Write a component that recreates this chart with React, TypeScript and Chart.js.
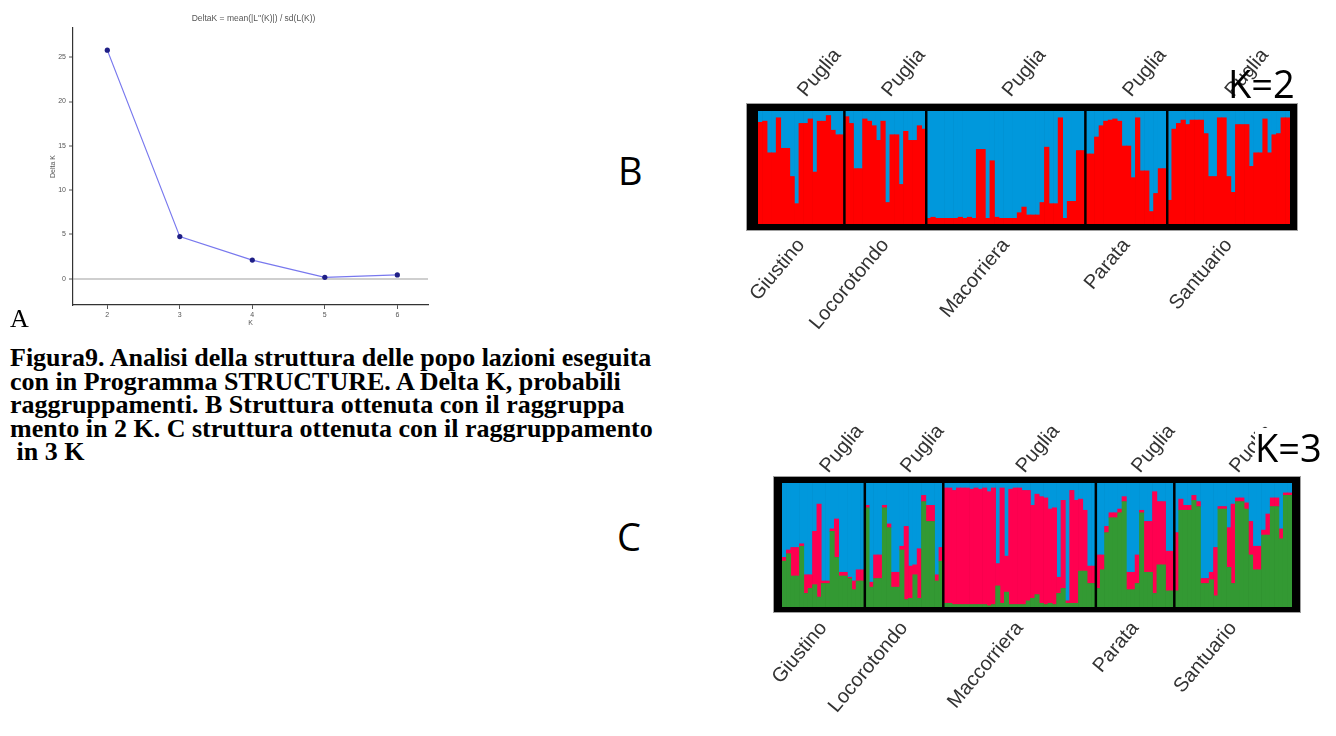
import React, { useEffect, useRef } from 'react';
import { Chart, registerables } from 'chart.js';

Chart.register(...registerables);

// ---------------- Panel A: Delta K ----------------
const kValues = [2, 3, 4, 5, 6];
const deltaK = [25.8, 4.75, 2.1, 0.15, 0.42];
const deltaKTicks = [0, 5, 10, 15, 20, 25];
const kTicks = [2, 3, 4, 5, 6];

// ---------------- Labels ----------------
const regionLabels = ['Puglia', 'Puglia', 'Puglia', 'Puglia', 'Puglia'];
const popLabelsK2 = ['Giustino', 'Locorotondo', 'Macorriera', 'Parata', 'Santuario'];
const popLabelsK3 = ['Giustino', 'Locorotondo', 'Maccorriera', 'Parata', 'Santuario'];

// ---------------- Panel B: K=2, red cluster membership (%) ----------------
const k2RedGiustino = [90, 91, 63, 63, 94, 67, 67, 42, 18, 89, 89, 93, 46, 91, 91, 96, 83, 79, 79];
const k2RedLocorotondo = [95, 89, 49, 49, 93, 91, 87, 74, 91, 19, 79, 79, 35, 82, 74, 74, 87, 84];
const k2RedMacorriera = [5, 6, 5, 5, 5, 5, 5, 6, 5, 6, 5, 66, 66, 5, 56, 6, 5, 5, 5, 5, 10, 15, 8, 8, 8, 19, 68, 18, 18, 94, 5, 20, 20, 65, 65];
const k2RedParata = [62, 62, 77, 87, 91, 92, 93, 91, 69, 69, 41, 94, 47, 47, 11, 27, 49, 49];
const k2RedSantuario = [21, 84, 89, 92, 88, 92, 92, 92, 80, 42, 42, 94, 94, 42, 28, 88, 88, 88, 51, 63, 63, 93, 63, 79, 80, 94, 94];

// ---------------- Panel C: K=3, green and red cluster membership (%) ----------------
const k3GreenGiustino = [37, 43, 25, 25, 49, 11, 15, 18, 8, 19, 19, 61, 40, 25, 25, 23, 14, 21, 21];
const k3RedGiustino = [3, 3, 23, 23, 2, 15, 11, 43, 75, 2, 2, 2, 31, 3, 3, 1, 7, 9, 9];
const k3GreenLocorotondo = [80, 16, 23, 23, 80, 64, 16, 16, 46, 6, 7, 26, 7, 85, 69, 69, 21, 37];
const k3RedLocorotondo = [2, 4, 19, 19, 2, 3, 12, 12, 3, 59, 26, 8, 40, 5, 13, 13, 5, 11];
const k3GreenMaccorriera = [3, 3, 2, 2, 2, 2, 2, 2, 2, 2, 1, 2, 17, 3, 12, 2, 2, 2, 2, 5, 7, 10, 3, 2, 3, 2, 11, 15, 3, 3, 3, 29, 29, 19, 19];
const k3RedMaccorriera = [93, 93, 92, 94, 94, 94, 93, 94, 93, 94, 92, 94, 18, 93, 29, 93, 94, 94, 92, 89, 75, 81, 86, 86, 76, 78, 13, 71, 2, 91, 83, 58, 49, 14, 14];
const k3GreenParata = [15, 30, 60, 72, 72, 76, 85, 14, 14, 19, 76, 28, 28, 11, 34, 34, 13, 13];
const k3RedParata = [27, 12, 5, 4, 4, 3, 4, 14, 14, 23, 2, 41, 41, 82, 51, 51, 32, 32];
const k3GreenSantuario = [13, 78, 78, 78, 86, 81, 19, 19, 22, 9, 79, 79, 32, 19, 85, 85, 79, 42, 30, 30, 58, 58, 81, 81, 55, 90, 90];
const k3RedSantuario = [47, 9, 4, 4, 4, 4, 4, 4, 6, 39, 2, 2, 32, 64, 3, 3, 5, 27, 19, 19, 4, 17, 7, 7, 8, 2, 2];

const k2RedGroups = [k2RedGiustino, k2RedLocorotondo, k2RedMacorriera, k2RedParata, k2RedSantuario];
const k3GreenGroups = [k3GreenGiustino, k3GreenLocorotondo, k3GreenMaccorriera, k3GreenParata, k3GreenSantuario];
const k3RedGroups = [k3RedGiustino, k3RedLocorotondo, k3RedMaccorriera, k3RedParata, k3RedSantuario];

const BLUE = '#0098dc';
const RED_K2 = '#ff0000';
const RED_K3 = '#ff0050';
const GREEN_K3 = '#339933';

const SANS = "'Liberation Sans', Arial, sans-serif";

type Frame = { l: number; t: number; r: number; b: number };

function structurePlugin(groupSizes: number[], frame: Frame) {
  return {
    id: 'structureFrame',
    beforeDatasetsDraw(chart: any) {
      const { ctx, chartArea: a } = chart;
      const x0 = a.left - frame.l;
      const y0 = a.top - frame.t;
      const w = a.right - a.left + frame.l + frame.r;
      const h = a.bottom - a.top + frame.t + frame.b;
      ctx.save();
      ctx.fillStyle = '#000';
      ctx.fillRect(x0, y0, w, h);
      ctx.strokeStyle = '#a0a0a0';
      ctx.lineWidth = 1;
      ctx.strokeRect(x0 - 0.5, y0 - 0.5, w + 1, h + 1);
      ctx.restore();
    },
    afterDatasetsDraw(chart: any) {
      const { ctx, chartArea: a, scales } = chart;
      const xs = scales.x;
      ctx.save();
      ctx.strokeStyle = '#000';
      ctx.lineWidth = 2.5;
      let acc = 0;
      groupSizes.slice(0, -1).forEach((n) => {
        acc += n;
        const px = xs.getPixelForValue(acc - 0.5);
        ctx.beginPath();
        ctx.moveTo(px, a.top);
        ctx.lineTo(px, a.bottom);
        ctx.stroke();
      });
      ctx.restore();
    },
  };
}

function structureConfig(
  datasets: any[],
  groupSizes: number[],
  popLabels: string[],
  o: {
    padL: number;
    padR: number;
    topH: number;
    bottomH: number;
    frame: Frame;
    topPad: number;
    bottomPad: number;
    topShift: number;
  }
): any {
  const total = groupSizes.reduce((s, n) => s + n, 0);
  const labels = Array.from({ length: total }, (_, i) => String(i + 1));
  const centers: number[] = [];
  let start = 0;
  groupSizes.forEach((n) => {
    centers.push(start + (n - 1) / 2);
    start += n;
  });
  const tickFont = { family: SANS, size: 20 };
  return {
    type: 'bar',
    data: { labels, datasets },
    options: {
      responsive: false,
      animation: false,
      devicePixelRatio: 1,
      layout: { padding: { left: o.padL, right: o.padR, top: 0, bottom: 0 } },
      plugins: { legend: { display: false }, tooltip: { enabled: false }, title: { display: false } },
      datasets: { bar: { categoryPercentage: 1, barPercentage: 1, borderWidth: 0 } },
      scales: {
        x: {
          type: 'category',
          position: 'bottom',
          stacked: true,
          offset: true,
          grid: { display: false, drawTicks: false },
          border: { display: false },
          ticks: {
            autoSkip: false,
            minRotation: 50,
            maxRotation: 50,
            padding: o.bottomPad,
            color: '#333',
            font: tickFont,
            callback: (_v: any, i: number) => popLabels[i],
          },
          afterBuildTicks: (s: any) => {
            s.ticks = centers.map((v) => ({ value: v }));
          },
          afterFit: (s: any) => {
            s.height = o.bottomH;
          },
        },
        xTop: {
          type: 'category',
          position: 'top',
          offset: true,
          grid: { display: false, drawTicks: false },
          border: { display: false },
          ticks: {
            autoSkip: false,
            minRotation: 50,
            maxRotation: 50,
            padding: o.topPad,
            labelOffset: o.topShift,
            color: '#333',
            font: tickFont,
            callback: (_v: any, i: number) => regionLabels[i],
          },
          afterBuildTicks: (s: any) => {
            s.ticks = centers.map((v) => ({ value: v }));
          },
          afterFit: (s: any) => {
            s.height = o.topH;
          },
        },
        y: { stacked: true, min: 0, max: 100, display: false },
      },
    },
    plugins: [structurePlugin(groupSizes, o.frame)],
  };
}

function configA(): any {
  const tickFont = { family: SANS, size: 7 };
  return {
    type: 'line',
    data: {
      datasets: [
        {
          data: kValues.map((k, i) => ({ x: k, y: deltaK[i] })),
          borderColor: '#7878ee',
          borderWidth: 1.2,
          pointRadius: 2.6,
          pointBackgroundColor: '#1f1f86',
          pointBorderColor: '#1f1f86',
          pointBorderWidth: 0,
          tension: 0,
        },
      ],
    },
    options: {
      responsive: false,
      animation: false,
      devicePixelRatio: 1,
      layout: { padding: { left: 45, right: 12, top: 28, bottom: 0 } },
      plugins: { legend: { display: false }, tooltip: { enabled: false } },
      scales: {
        x: {
          type: 'linear',
          min: 1.527,
          max: 6.423,
          afterBuildTicks: (s: any) => {
            s.ticks = kTicks.map((v) => ({ value: v }));
          },
          afterFit: (s: any) => {
            s.height = 25;
          },
          grid: { drawOnChartArea: false, tickLength: 4, color: '#555', tickWidth: 1 },
          border: { color: '#333', width: 1.2 },
          ticks: { font: tickFont, color: '#555', padding: 2 },
          title: { display: true, text: 'K', font: tickFont, color: '#555', padding: { top: 0, bottom: 3 } },
        },
        y: {
          type: 'linear',
          min: -2.97,
          max: 28.3,
          afterBuildTicks: (s: any) => {
            s.ticks = deltaKTicks.map((v) => ({ value: v }));
          },
          afterFit: (s: any) => {
            s.width = 28;
          },
          grid: {
            color: (c: any) => (c.tick && c.tick.value === 0 ? '#cfcfcf' : 'rgba(0,0,0,0)'),
            lineWidth: 2,
            tickColor: '#555',
            tickWidth: 1,
            tickLength: 4,
          },
          border: { color: '#333', width: 1.2 },
          ticks: { font: tickFont, color: '#555', padding: 3 },
          title: { display: true, text: 'Delta K', font: tickFont, color: '#555', padding: { top: 4, bottom: 0 } },
        },
      },
    },
  };
}

function configB(): any {
  const red = k2RedGroups.flat();
  const blue = red.map((v) => 100 - v); // membership proportions sum to 100
  const datasets = [
    { label: 'Cluster 1', data: red, backgroundColor: RED_K2 },
    { label: 'Cluster 2', data: blue, backgroundColor: BLUE },
  ];
  return structureConfig(datasets, k2RedGroups.map((g) => g.length), popLabelsK2, {
    padL: 58,
    padR: 46,
    topH: 111,
    bottomH: 138,
    frame: { l: 11, t: 7, r: 7, b: 6 },
    topPad: 9,
    bottomPad: 10,
    topShift: 19,
  });
}

function configC(): any {
  const green = k3GreenGroups.flat();
  const red = k3RedGroups.flat();
  const blue = green.map((g, i) => 100 - g - red[i]); // membership proportions sum to 100
  const datasets = [
    { label: 'Cluster 1', data: green, backgroundColor: GREEN_K3 },
    { label: 'Cluster 2', data: red, backgroundColor: RED_K3 },
    { label: 'Cluster 3', data: blue, backgroundColor: BLUE },
  ];
  return structureConfig(datasets, k3GreenGroups.map((g) => g.length), popLabelsK3, {
    padL: 82,
    padR: 44,
    topH: 113,
    bottomH: 129,
    frame: { l: 8, t: 6, r: 8, b: 5 },
    topPad: 5,
    bottomPad: 10,
    topShift: 19,
  });
}

function ChartCanvas(props: { make: () => any; left: number; top: number; width: number; height: number }) {
  const ref = useRef<HTMLCanvasElement>(null);
  useEffect(() => {
    const chart = new Chart(ref.current as HTMLCanvasElement, props.make());
    return () => chart.destroy();
  }, []);
  return (
    <canvas
      ref={ref}
      width={props.width}
      height={props.height}
      style={{ position: 'absolute', left: props.left, top: props.top, width: props.width, height: props.height }}
    />
  );
}

const captionLines = [
  'Figura9. Analisi della struttura delle popo lazioni eseguita',
  'con in Programma STRUCTURE. A Delta K, probabili',
  'raggruppamenti. B Struttura ottenuta con il raggruppa',
  'mento in 2 K. C struttura ottenuta con il raggruppamento',
  ' in 3 K',
];

export default function App() {
  const big: React.CSSProperties = {
    position: 'absolute',
    fontFamily: "'Open Sans', 'Noto Sans', sans-serif",
    fontSize: 38,
    lineHeight: '38px',
    color: '#000',
    whiteSpace: 'pre',
  };
  return (
    <div style={{ position: 'absolute', left: 0, top: 0, width: 1336, height: 736, background: '#fff', overflow: 'hidden' }}>
      <ChartCanvas make={configA} left={0} top={0} width={440} height={330} />
      <ChartCanvas make={configB} left={700} top={0} width={636} height={362} />
      <ChartCanvas make={configC} left={700} top={370} width={636} height={366} />

      <div
        style={{
          position: 'absolute',
          left: 0,
          top: 13,
          width: 507,
          textAlign: 'center',
          fontFamily: SANS,
          fontSize: 8.5,
          color: '#555',
          whiteSpace: 'pre',
        }}
      >
        {"DeltaK = mean(|L''(K)|) / sd(L(K))"}
      </div>

      <div
        style={{
          position: 'absolute',
          left: 10,
          top: 306,
          fontFamily: "'Liberation Serif', 'Times New Roman', serif",
          fontSize: 26,
          lineHeight: '26px',
          color: '#000',
        }}
      >
        A
      </div>

      <div
        style={{
          position: 'absolute',
          left: 10,
          top: 346,
          fontFamily: "'Liberation Serif', 'Times New Roman', serif",
          fontWeight: 'bold',
          fontSize: 26,
          lineHeight: '23.6px',
          color: '#000',
          whiteSpace: 'pre',
        }}
      >
        {captionLines.map((l, i) => (
          <div key={i}>{l}</div>
        ))}
      </div>

      <div style={{ ...big, left: 618, top: 151 }}>B</div>
      <div style={{ ...big, left: 617, top: 517 }}>C</div>
      <div style={{ ...big, left: 1228, top: 64 }}>K=2</div>
      <div style={{ ...big, left: 1255, top: 428, background: '#fff' }}>K=3</div>
    </div>
  );
}
